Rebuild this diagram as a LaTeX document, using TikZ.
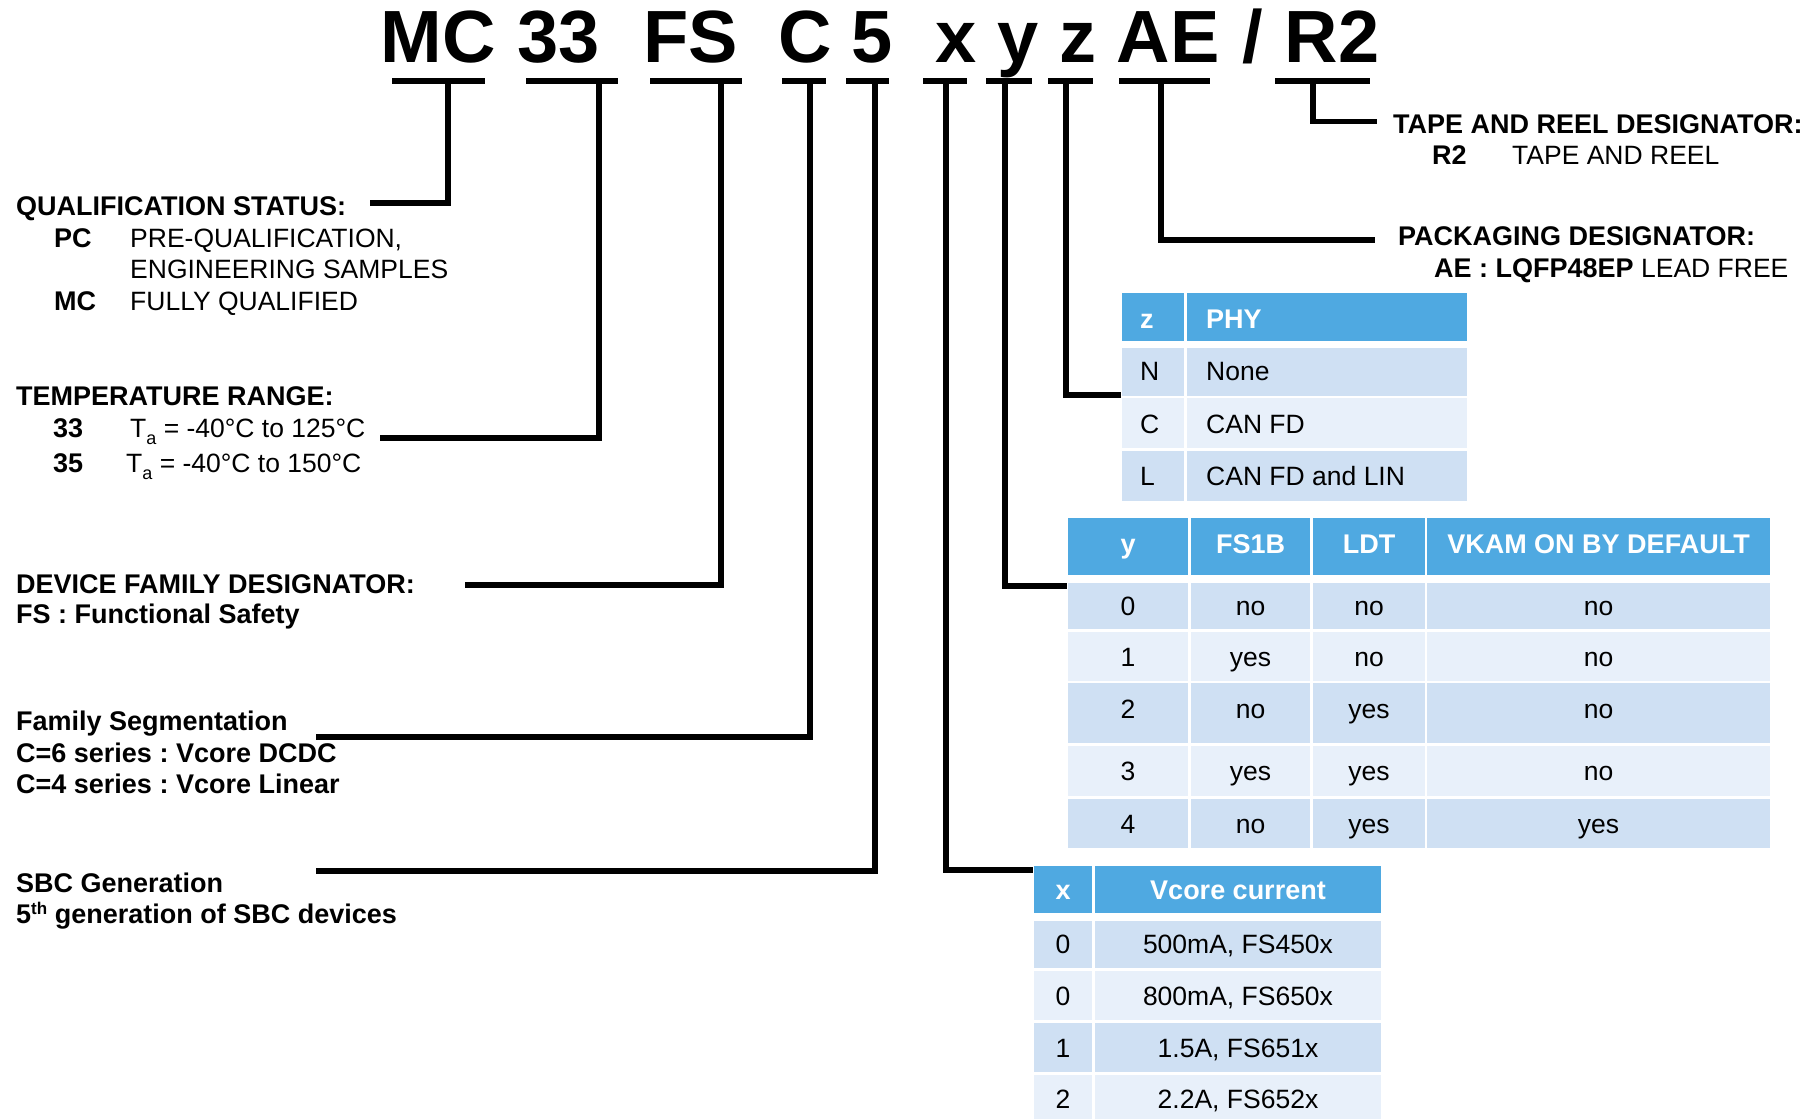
\documentclass[tikz,border=0pt]{standalone}
\usepackage{fontspec}
\setmainfont{Liberation Sans}
\definecolor{hd}{RGB}{79,169,225}
\definecolor{rd}{RGB}{207,224,243}
\definecolor{rl}{RGB}{232,240,250}
\newcommand{\fs}{\fontsize{26.5}{31}\selectfont}
\newcommand{\fsb}{\fontsize{27}{31}\selectfont\bfseries}
\newcommand{\subA}{\raisebox{-7pt}{\fontsize{18}{18}\selectfont a}}
\frenchspacing
\begin{document}
\begin{tikzpicture}[x=1pt,y=-1pt,
  ttl/.style={anchor=base,inner sep=0,font=\fontsize{74}{80}\selectfont\bfseries},
  lbl/.style={anchor=base west,inner sep=0,font=\fs},
  lblb/.style={anchor=base west,inner sep=0,font=\fsb},
  thc/.style={anchor=base,inner sep=0,text=white,font=\fsb},
  thw/.style={anchor=base west,inner sep=0,text=white,font=\fsb},
  tdc/.style={anchor=base,inner sep=0,font=\fs},
  tdw/.style={anchor=base west,inner sep=0,font=\fs},
  bar/.style={line width=6pt},
  conn/.style={line width=5.5pt}]
\useasboundingbox (0,0) rectangle (1808,1119);

% ---------- title ----------
\node[ttl] (tMC) at (438,62) {MC};
\node[ttl] (t33) at (559,62) {33};
\node[ttl] (tFS) at (691,62) {FS};
\node[ttl] (tC)  at (805,62) {C};
\node[ttl] (t5)  at (872,62) {5};
\node[ttl] (tx)  at (956,62) {x};
\node[ttl] (ty)  at (1018,62) {y};
\node[ttl] (tz)  at (1078,62) {z};
\node[ttl] (tAE) at (1168,62) {AE};
\node[ttl] (tsl) at (1253,62) {/};
\node[ttl] (tR2) at (1332,62) {R2};

% ---------- bars ----------
\draw[bar] (392,80.5) -- (485,80.5);
\draw[bar] (526,80.5) -- (618,80.5);
\draw[bar] (650,80.5) -- (742,80.5);
\draw[bar] (782,80.5) -- (826,80.5);
\draw[bar] (846,80.5) -- (889,80.5);
\draw[bar] (923,80.5) -- (967,80.5);
\draw[bar] (986,80.5) -- (1032,80.5);
\draw[bar] (1048,80.5) -- (1093,80.5);
\draw[bar] (1119,80.5) -- (1210,80.5);
\draw[bar] (1275,80.5) -- (1370,80.5);

% ---------- connector coordinates ----------
\coordinate (cMC) at (448,80.5);  \coordinate (eMC) at (370,203);
\coordinate (c33) at (599,80.5);  \coordinate (e33) at (380,438);
\coordinate (cFS) at (721,80.5);  \coordinate (eFS) at (465,585);
\coordinate (cC)  at (810,80.5);  \coordinate (eC)  at (316,737);
\coordinate (c5)  at (875,80.5);  \coordinate (e5)  at (316,871);
\coordinate (cx)  at (946,80.5);  \coordinate (ex)  at (1033,870);
\coordinate (cy)  at (1005,80.5); \coordinate (ey)  at (1067,586);
\coordinate (cz)  at (1066,80.5); \coordinate (ez)  at (1121,395);
\coordinate (cAE) at (1161,80.5); \coordinate (eAE) at (1375,240);
\coordinate (cR2) at (1313,80.5); \coordinate (eR2) at (1377,121.5);

\draw[conn] (cMC) |- (eMC);
\draw[conn] (c33) |- (e33);
\draw[conn] (cFS) |- (eFS);
\draw[conn] (cC)  |- (eC);
\draw[conn] (c5)  |- (e5);
\draw[conn] (cx)  |- (ex);
\draw[conn] (cy)  |- (ey);
\draw[conn] (cz)  |- (ez);
\draw[conn] (cAE) |- (eAE);
\draw[conn] (cR2) |- (eR2);

% ---------- left labels ----------
\node[lblb] (q0) at (16,215) {QUALIFICATION STATUS:};
\node[lblb] (q1) at (54,247) {PC};
\node[lbl]  (q2) at (130,247) {PRE-QUALIFICATION,};
\node[lbl]  (q3) at (130,278) {ENGINEERING SAMPLES};
\node[lblb] (q4) at (54,310) {MC};
\node[lbl]  (q5) at (130,310) {FULLY QUALIFIED};

\node[lblb] (r0) at (16,405) {TEMPERATURE RANGE:};
\node[lblb] (r1) at (53,437) {33};
\node[lbl]  (r2) at (130,437) {T\subA{} = -40°C to 125°C};
\node[lblb] (r3) at (53,472) {35};
\node[lbl]  (r4) at (126,472) {T\subA{} = -40°C to 150°C};

\node[lblb] (d0) at (16,593) {DEVICE FAMILY DESIGNATOR:};
\node[lblb] (d1) at (16,623) {FS : Functional Safety};

\node[lblb] (f0) at (16,730) {Family Segmentation};
\node[lblb] (f1) at (16,762) {C=6 series : Vcore DCDC};
\node[lblb] (f2) at (16,793) {C=4 series : Vcore Linear};

\node[lblb] (s0) at (16,892) {SBC Generation};
\node[lblb] (s1) at (16,923) {5\raisebox{9pt}{\fontsize{17}{17}\selectfont th} generation of SBC devices};

% ---------- right labels ----------
\node[lblb] (p0) at (1393,133) {TAPE AND REEL DESIGNATOR:};
\node[lblb] (p1) at (1432,164) {R2};
\node[lbl]  (p2) at (1512,164) {TAPE AND REEL};
\node[lblb] (k0) at (1398,245) {PACKAGING DESIGNATOR:};
\node[lbl]  (k1) at (1434,277) {{\fsb AE : LQFP48EP} LEAD FREE};

% ---------- z table ----------
\fill[hd] (1122,293) rectangle (1184,341);
\fill[hd] (1187,293) rectangle (1467,341);
\fill[rd] (1122,348) rectangle (1184,396);
\fill[rd] (1187,348) rectangle (1467,396);
\fill[rl] (1122,398) rectangle (1184,448);
\fill[rl] (1187,398) rectangle (1467,448);
\fill[rd] (1122,451) rectangle (1184,501);
\fill[rd] (1187,451) rectangle (1467,501);
\node[thw] (zh1) at (1140,328) {z};
\node[thw] (zh2) at (1206,328) {PHY};
\node[tdw] (z11) at (1140,380) {N};
\node[tdw] (z12) at (1206,380) {None};
\node[tdw] (z21) at (1140,433) {C};
\node[tdw] (z22) at (1206,433) {CAN FD};
\node[tdw] (z31) at (1140,485) {L};
\node[tdw] (z32) at (1206,485) {CAN FD and LIN};

% ---------- y table ----------
\foreach \a/\b in {1068/1188,1191/1310,1313/1425,1427/1770}{
  \fill[hd] (\a,518) rectangle (\b,575);
  \fill[rd] (\a,583) rectangle (\b,629);
  \fill[rl] (\a,632) rectangle (\b,681);
  \fill[rd] (\a,683) rectangle (\b,743);
  \fill[rl] (\a,746) rectangle (\b,796);
  \fill[rd] (\a,799) rectangle (\b,848);
}
\node[thc] (yh1) at (1128,553) {y};
\node[thc] (yh2) at (1250.5,553) {FS1B};
\node[thc] (yh3) at (1369,553) {LDT};
\node[thc] (yh4) at (1598.5,553) {VKAM ON BY DEFAULT};
\node[tdc] (y01) at (1128,615) {0};
\node[tdc] (y02) at (1250.5,615) {no};
\node[tdc] (y03) at (1369,615) {no};
\node[tdc] (y04) at (1598.5,615) {no};
\node[tdc] (y11) at (1128,666) {1};
\node[tdc] (y12) at (1250.5,666) {yes};
\node[tdc] (y13) at (1369,666) {no};
\node[tdc] (y14) at (1598.5,666) {no};
\node[tdc] (y21) at (1128,718) {2};
\node[tdc] (y22) at (1250.5,718) {no};
\node[tdc] (y23) at (1369,718) {yes};
\node[tdc] (y24) at (1598.5,718) {no};
\node[tdc] (y31) at (1128,780) {3};
\node[tdc] (y32) at (1250.5,780) {yes};
\node[tdc] (y33) at (1369,780) {yes};
\node[tdc] (y34) at (1598.5,780) {no};
\node[tdc] (y41) at (1128,833) {4};
\node[tdc] (y42) at (1250.5,833) {no};
\node[tdc] (y43) at (1369,833) {yes};
\node[tdc] (y44) at (1598.5,833) {yes};

% ---------- x table ----------
\foreach \a/\b in {1034/1092,1095/1381}{
  \fill[hd] (\a,866) rectangle (\b,913);
  \fill[rd] (\a,921) rectangle (\b,968);
  \fill[rl] (\a,971) rectangle (\b,1020);
  \fill[rd] (\a,1023) rectangle (\b,1072);
  \fill[rl] (\a,1075) rectangle (\b,1119);
}
\node[thc] (xh1) at (1063,899) {x};
\node[thc] (xh2) at (1238,899) {Vcore current};
\node[tdc] (x01) at (1063,953) {0};
\node[tdc] (x02) at (1238,953) {500mA, FS450x};
\node[tdc] (x11) at (1063,1005) {0};
\node[tdc] (x12) at (1238,1005) {800mA, FS650x};
\node[tdc] (x21) at (1063,1057) {1};
\node[tdc] (x22) at (1238,1057) {1.5A, FS651x};
\node[tdc] (x31) at (1063,1108) {2};
\node[tdc] (x32) at (1238,1108) {2.2A, FS652x};
\end{tikzpicture}
\end{document}
